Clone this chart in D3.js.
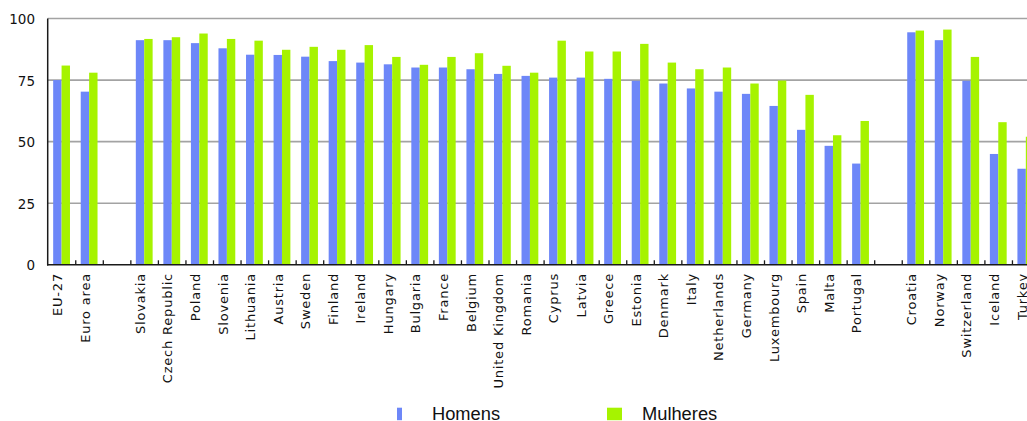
<!DOCTYPE html>
<html>
<head>
<meta charset="utf-8">
<script src="https://cdn.jsdelivr.net/npm/d3@7"></script>
<style>
  html, body { margin: 0; padding: 0; background: #fff; overflow: hidden; }
  svg { display: block; }
</style>
</head>
<body>
<svg id="chart" width="1027" height="421"></svg>
<script>
// Country groups; null marks an empty gap slot between groups
const categories = [
  "EU-27", "Euro area", null,
  "Slovakia", "Czech Republic", "Poland", "Slovenia", "Lithuania", "Austria",
  "Sweden", "Finland", "Ireland", "Hungary", "Bulgaria", "France", "Belgium",
  "United Kingdom", "Romania", "Cyprus", "Latvia", "Greece", "Estonia",
  "Denmark", "Italy", "Netherlands", "Germany", "Luxembourg", "Spain",
  "Malta", "Portugal", null,
  "Croatia", "Norway", "Switzerland", "Iceland", "Turkey"
];
const seriesNames = ["Homens", "Mulheres"];
const homens = [75, 70.3, 91.2, 91.2, 90, 87.9, 85.3, 85.2, 84.5, 82.7, 82.1, 81.4,
  80.1, 80.1, 79.4, 77.5, 76.7, 76, 76, 75.5, 74.7, 73.6, 71.6, 70.3, 69.4, 64.5,
  54.8, 48.3, 41.1, 94.4, 91.2, 74.7, 45, 39];
const mulheres = [80.9, 78, 91.7, 92.4, 93.9, 91.7, 91, 87.3, 88.5, 87.3, 89.2, 84.4,
  81.2, 84.4, 85.9, 80.8, 78, 91, 86.6, 86.6, 89.7, 82.1, 79.4, 80.1, 73.6, 74.8,
  69, 52.6, 58.4, 95.1, 95.5, 84.4, 57.9, 52];
const yTicks = [0, 25, 50, 75, 100];
const colors = ["#6d87f8", "#a6f300"];

// Pair each named category with its two values (gaps get none)
const rows = [];
let k = 0;
categories.forEach((c, i) => {
  if (c !== null) { rows.push({ i, name: c, values: [homens[k], mulheres[k]] }); k++; }
});

const svg = d3.select("#chart");
const plotLeft = 48.5, slotStep = 27.55, plotTop = 18.5, plotBottom = 264.8;

const x0 = d3.scaleBand()
  .domain(d3.range(categories.length))
  .range([plotLeft, plotLeft + slotStep * categories.length])
  .paddingInner(0.39)
  .paddingOuter(0.195);
const x1 = d3.scaleBand().domain([0, 1]).range([0, x0.bandwidth()]);
const y = d3.scaleLinear().domain([0, 100]).range([plotBottom, plotTop]);
const xEnd = x0.range()[1];

// Horizontal gridlines
svg.append("g").selectAll("line")
  .data(yTicks.filter(t => t > 0))
  .join("line")
  .attr("x1", plotLeft - 0.8).attr("x2", xEnd)
  .attr("y1", d => y(d)).attr("y2", d => y(d))
  .attr("stroke", "#a3a3a3").attr("stroke-width", 1.6);

// Bars
const groups = svg.append("g").attr("transform", "translate(-0.7,0)")
  .selectAll("g").data(rows).join("g")
  .attr("transform", d => `translate(${x0(d.i)},0)`);
groups.selectAll("rect")
  .data(d => d.values.map((v, s) => ({ v, s })))
  .join("rect")
  .attr("x", d => x1(d.s))
  .attr("width", x1.bandwidth())
  .attr("y", d => y(d.v))
  .attr("height", d => y(0) - y(d.v))
  .attr("fill", d => colors[d.s]);

// Y axis line and labels
svg.append("line")
  .attr("x1", plotLeft - 0.8).attr("x2", plotLeft - 0.8)
  .attr("y1", y(100)).attr("y2", y(0) + 0.8)
  .attr("stroke", "#1a1a1a").attr("stroke-width", 1.5);
svg.append("g").selectAll("text")
  .data(yTicks).join("text")
  .attr("x", 35).attr("y", d => y(d) + 0.6)
  .attr("text-anchor", "end")
  .attr("dominant-baseline", "central")
  .attr("font-family", "DejaVu Sans, Verdana, sans-serif")
  .attr("font-size", 13.5)
  .attr("fill", "#111")
  .text(d => d);

// X axis line with inward ticks at slot boundaries
svg.append("line")
  .attr("x1", plotLeft - 1.5).attr("x2", xEnd)
  .attr("y1", y(0)).attr("y2", y(0))
  .attr("stroke", "#1a1a1a").attr("stroke-width", 1.5);
svg.append("g").selectAll("line")
  .data(d3.range(1, categories.length + 1))
  .join("line")
  .attr("x1", i => plotLeft + i * x0.step() - 0.3)
  .attr("x2", i => plotLeft + i * x0.step() - 0.3)
  .attr("y1", y(0)).attr("y2", y(0) - 4.5)
  .attr("stroke", "#1a1a1a").attr("stroke-width", 1.3);

// Rotated category labels
svg.append("g").selectAll("text")
  .data(rows).join("text")
  .attr("transform", d => `translate(${x0(d.i) + x0.bandwidth() / 2},273) rotate(-90)`)
  .attr("text-anchor", "end")
  .attr("font-family", "DejaVu Sans, Verdana, sans-serif")
  .attr("font-size", 13)
  .attr("letter-spacing", 0.8)
  .attr("fill", "#111")
  .text(d => d.name);

// Legend
const legend = [
  { name: seriesNames[0], color: colors[0], mx: 397, mw: 5, tx: 432 },
  { name: seriesNames[1], color: colors[1], mx: 607, mw: 15, tx: 642 }
];
const lg = svg.append("g").selectAll("g").data(legend).join("g");
lg.append("rect")
  .attr("x", d => d.mx).attr("y", 407.7)
  .attr("width", d => d.mw).attr("height", 12.5)
  .attr("fill", d => d.color);
lg.append("text")
  .attr("x", d => d.tx).attr("y", 420.2)
  .attr("font-family", "Liberation Sans, Arial, sans-serif")
  .attr("font-size", 18.3)
  .attr("fill", "#111")
  .text(d => d.name);
</script>
</body>
</html>
